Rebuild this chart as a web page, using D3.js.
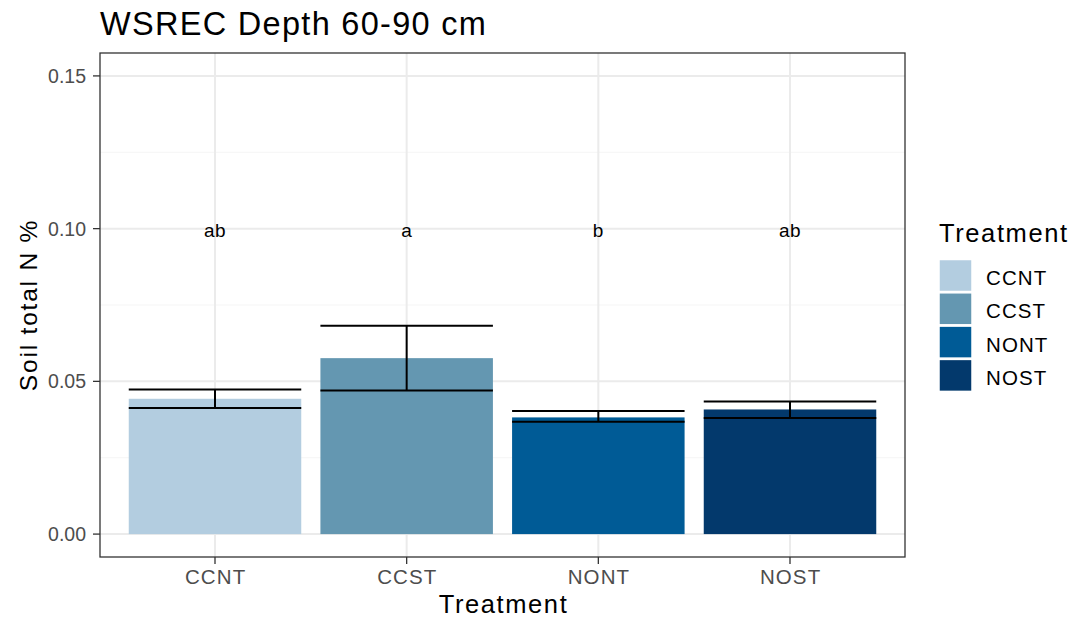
<!DOCTYPE html>
<html>
<head>
<meta charset="utf-8">
<script src="https://cdn.jsdelivr.net/npm/d3@7"></script>
<style>
  body { margin: 0; background: #fff; }
  svg { display: block; font-family: "Liberation Sans", Arial, sans-serif; }
</style>
</head>
<body>
<svg id="chart" width="1074" height="620"></svg>
<script>
// Soil total N (%) by treatment, 60-90 cm depth
const categories = ["CCNT", "CCST", "NONT", "NOST"];
const means = [0.0443, 0.0576, 0.0382, 0.0408];
const errLow = [0.0413, 0.0470, 0.0368, 0.0380];
const errHigh = [0.0473, 0.0682, 0.0403, 0.0434];
const letters = ["ab", "a", "b", "ab"];
const letterY = 0.10;
const colors = ["#B3CDE0", "#6497B1", "#005B96", "#03396C"];
const yTicks = [0, 0.05, 0.10, 0.15];
const yMinor = [0.025, 0.075, 0.125];

const svg = d3.select("#chart");
const panel = { left: 100, right: 905, top: 53, bottom: 557 };

// discrete x positions with 0.6 band expansion on each side
const x = d3.scalePoint()
  .domain(categories)
  .range([panel.left, panel.right])
  .padding(0.6);
const bw = x.step();
const barW = bw * 0.9;

const y = d3.scaleLinear().domain([-0.0075, 0.1575]).range([panel.bottom, panel.top]);

// grid
const g = svg.append("g");
g.selectAll(".minor").data(yMinor).join("line")
  .attr("x1", panel.left).attr("x2", panel.right)
  .attr("y1", d => y(d)).attr("y2", d => y(d))
  .attr("stroke", "#F5F5F5").attr("stroke-width", 1.1);
g.selectAll(".majory").data(yTicks).join("line")
  .attr("x1", panel.left).attr("x2", panel.right)
  .attr("y1", d => y(d)).attr("y2", d => y(d))
  .attr("stroke", "#EBEBEB").attr("stroke-width", 2);
g.selectAll(".majorx").data(categories).join("line")
  .attr("x1", d => x(d)).attr("x2", d => x(d))
  .attr("y1", panel.top).attr("y2", panel.bottom)
  .attr("stroke", "#EBEBEB").attr("stroke-width", 2);

// bars
svg.append("g").selectAll("rect").data(categories).join("rect")
  .attr("x", d => x(d) - barW / 2)
  .attr("width", barW)
  .attr("y", (d, i) => y(means[i]))
  .attr("height", (d, i) => y(0) - y(means[i]))
  .attr("fill", (d, i) => colors[i]);

// error bars
const eb = svg.append("g").attr("stroke", "#000").attr("stroke-width", 2).attr("fill", "none");
categories.forEach((c, i) => {
  const cx = x(c);
  eb.append("line").attr("x1", cx).attr("x2", cx).attr("y1", y(errLow[i])).attr("y2", y(errHigh[i]));
  eb.append("line").attr("x1", cx - barW / 2).attr("x2", cx + barW / 2).attr("y1", y(errLow[i])).attr("y2", y(errLow[i]));
  eb.append("line").attr("x1", cx - barW / 2).attr("x2", cx + barW / 2).attr("y1", y(errHigh[i])).attr("y2", y(errHigh[i]));
});

// significance letters
svg.append("g").selectAll("text").data(categories).join("text")
  .attr("x", d => x(d))
  .attr("y", y(letterY))
  .attr("dy", "0.45em")
  .attr("text-anchor", "middle")
  .attr("font-size", 19)
  .attr("letter-spacing", 0.5)
  .attr("fill", "#000")
  .text((d, i) => letters[i]);

// panel border
svg.append("rect")
  .attr("x", panel.left).attr("y", panel.top)
  .attr("width", panel.right - panel.left).attr("height", panel.bottom - panel.top)
  .attr("fill", "none").attr("stroke", "#333333").attr("stroke-width", 1.3);

// y axis
const ya = svg.append("g");
yTicks.forEach(t => {
  ya.append("line").attr("x1", panel.left - 7).attr("x2", panel.left)
    .attr("y1", y(t)).attr("y2", y(t)).attr("stroke", "#333333").attr("stroke-width", 1.3);
  ya.append("text").attr("x", panel.left - 14).attr("y", y(t)).attr("dy", "0.36em")
    .attr("text-anchor", "end").attr("font-size", 19.5).attr("fill", "#4D4D4D")
    .text(d3.format(".2f")(t));
});

// x axis
const xa = svg.append("g");
categories.forEach(c => {
  xa.append("line").attr("x1", x(c)).attr("x2", x(c))
    .attr("y1", panel.bottom).attr("y2", panel.bottom + 7).attr("stroke", "#333333").attr("stroke-width", 1.3);
  xa.append("text").attr("x", x(c) + 0.6).attr("y", 584)
    .attr("text-anchor", "middle").attr("font-size", 20.5).attr("letter-spacing", 1.1)
    .attr("fill", "#4D4D4D").text(c);
});

// titles
svg.append("text").attr("x", 100).attr("y", 34.5)
  .attr("font-size", 32.5).attr("letter-spacing", 1.3).attr("fill", "#000").text("WSREC Depth 60-90 cm");
svg.append("text").attr("x", (panel.left + panel.right) / 2 + 1).attr("y", 612.5)
  .attr("text-anchor", "middle").attr("font-size", 25.5).attr("letter-spacing", 1.6)
  .attr("fill", "#000").text("Treatment");
svg.append("text")
  .attr("transform", `translate(36.5,${(panel.top + panel.bottom) / 2}) rotate(-90)`)
  .attr("text-anchor", "middle").attr("font-size", 24.5).attr("letter-spacing", 1.8)
  .attr("fill", "#000").text("Soil total N %");

// legend
const lg = svg.append("g").attr("transform", "translate(939,0)");
lg.append("text").attr("x", 0).attr("y", 241.5)
  .attr("font-size", 25.5).attr("letter-spacing", 1.6).attr("fill", "#000").text("Treatment");
categories.forEach((c, i) => {
  const top = 259.5 + i * 33.3;
  lg.append("rect").attr("x", 0).attr("y", top).attr("width", 33).attr("height", 32)
    .attr("fill", colors[i]).attr("stroke", "#fff").attr("stroke-width", 1.5);
  lg.append("text").attr("x", 47).attr("y", top + 25.5)
    .attr("font-size", 20.5).attr("letter-spacing", 1.1).attr("fill", "#000").text(c);
});
</script>
</body>
</html>
